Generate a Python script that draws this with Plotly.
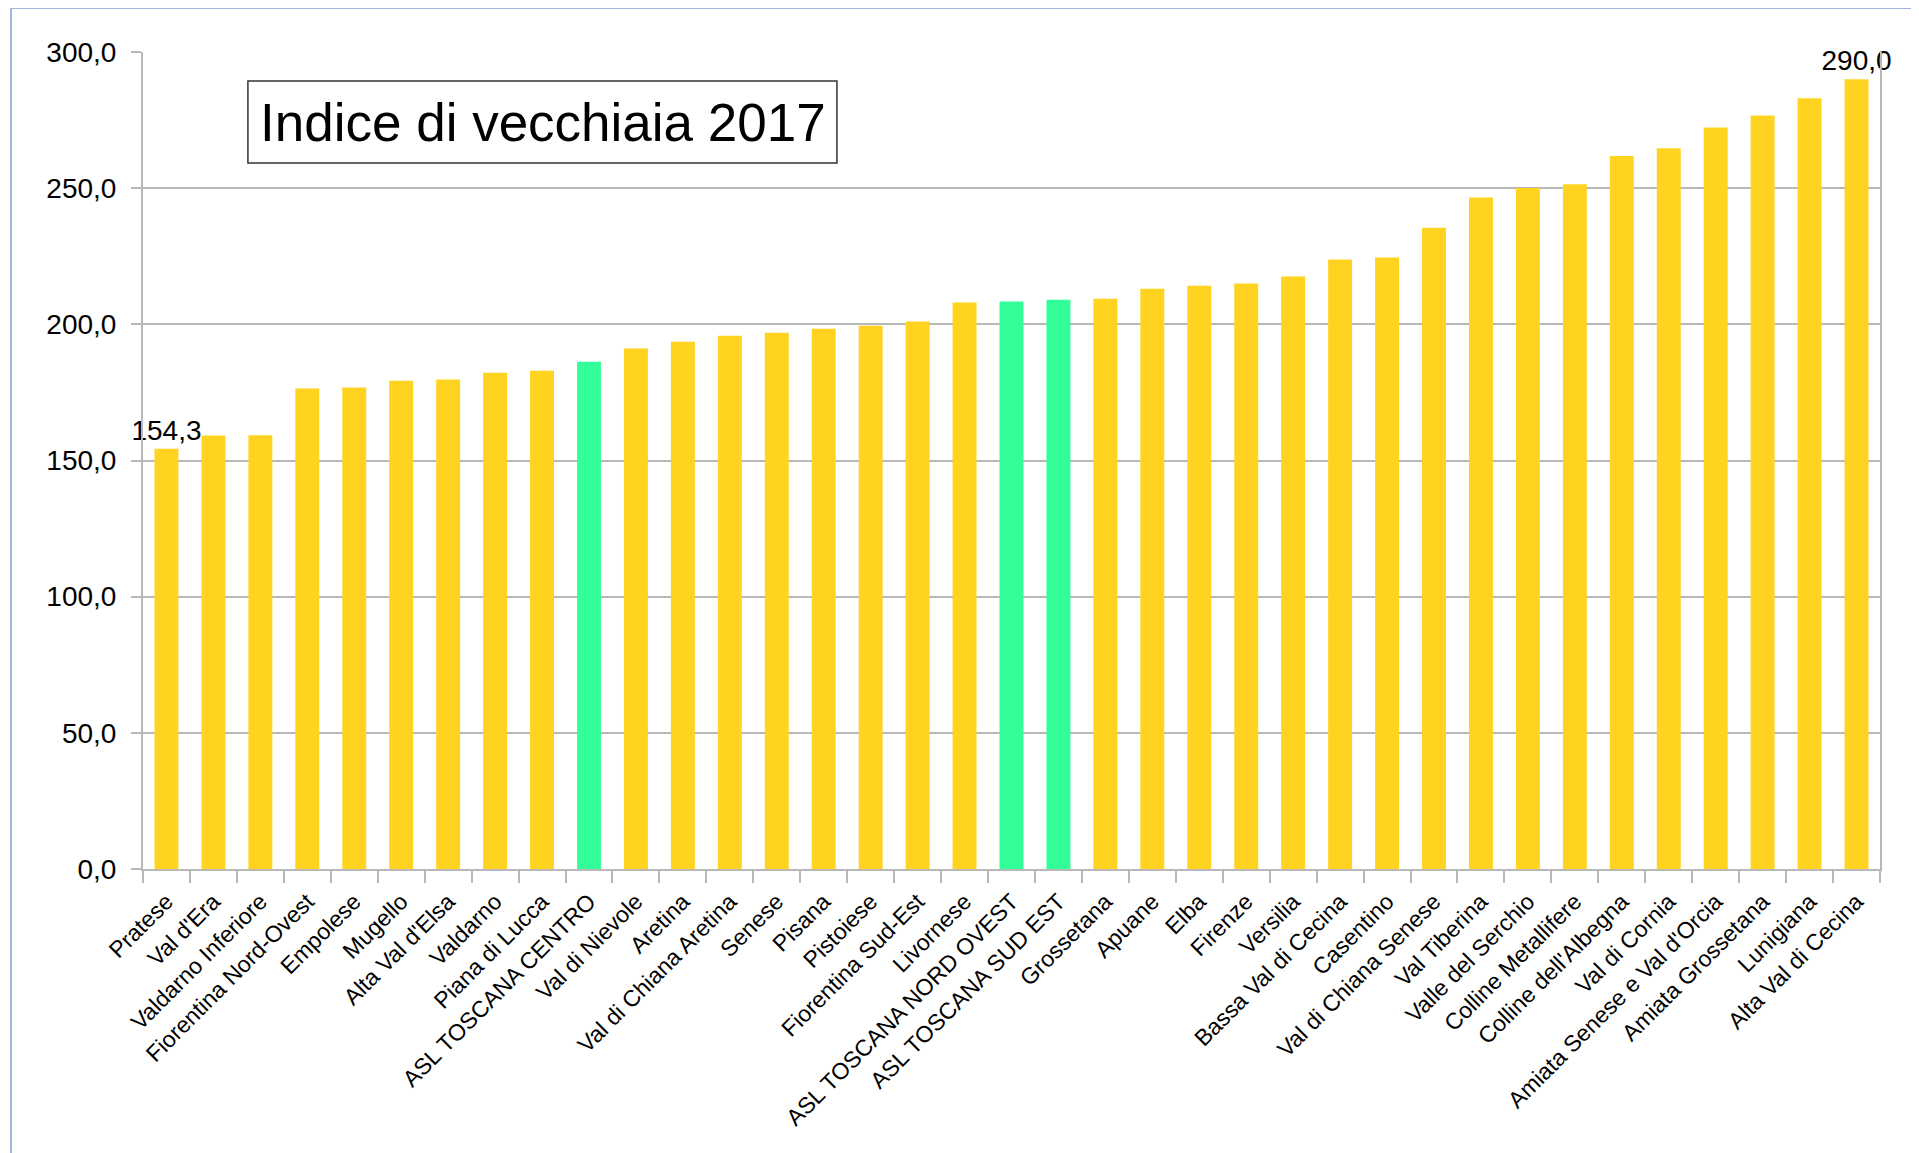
import plotly.graph_objects as go

# Indice di vecchiaia 2017 - zone / ASL della Toscana
zone = [
    "Pratese", "Val d'Era", "Valdarno Inferiore", "Fiorentina Nord-Ovest",
    "Empolese", "Mugello", "Alta Val d'Elsa", "Valdarno", "Piana di Lucca",
    "ASL TOSCANA CENTRO", "Val di Nievole", "Aretina", "Val di Chiana Aretina",
    "Senese", "Pisana", "Pistoiese", "Fiorentina Sud-Est", "Livornese",
    "ASL TOSCANA NORD OVEST", "ASL TOSCANA SUD EST", "Grossetana", "Apuane",
    "Elba", "Firenze", "Versilia", "Bassa Val di Cecina", "Casentino",
    "Val di Chiana Senese", "Val Tiberina", "Valle del Serchio",
    "Colline Metallifere", "Colline dell'Albegna", "Val di Cornia",
    "Amiata Senese e Val d'Orcia", "Amiata Grossetana", "Lunigiana",
    "Alta Val di Cecina",
]
indice = [
    154.3, 159.2, 159.3, 176.4, 176.8, 179.3, 179.7, 182.2, 183.0,
    186.3, 191.1, 193.6, 195.8, 196.9, 198.4, 199.5, 201.0, 208.0,
    208.4, 209.0, 209.4, 213.1, 214.2, 215.0, 217.6, 223.8, 224.5,
    235.5, 246.6, 250.1, 251.4, 261.8, 264.7, 272.3, 276.7, 283.0,
    290.0,
]
y_ticks = [0, 50, 100, 150, 200, 250, 300]

GIALLO = "#ffd320"
VERDE = "#33ff99"
GRIGIO = "#b8b8b8"

colori = [VERDE if z.startswith("ASL") else GIALLO for z in zone]

# only min and max get a value label
def fmt(v):
    return f"{v:.1f}".replace(".", ",")

etichette = ["" for _ in indice]
etichette[0] = fmt(indice[0])
etichette[-1] = fmt(indice[-1])

fig = go.Figure()
fig.add_trace(go.Bar(
    x=zone,
    y=indice,
    marker=dict(color=colori, line=dict(width=0)),
    text=etichette,
    textposition="outside",
    textfont=dict(family="Liberation Sans", size=28, color="black"),
    constraintext="none",
    cliponaxis=False,
    showlegend=False,
))

# page body has an 8px margin, so the figure is offset by 8px
fig.update_layout(
    width=1919,
    height=1153,
    margin=dict(l=135, r=47, t=44, b=292),
    paper_bgcolor="white",
    plot_bgcolor="white",
    separators=",.",
    bargap=0.49,
    font=dict(family="Liberation Sans", color="black"),
    xaxis=dict(
        type="category",
        tickangle=-45,
        tickfont=dict(size=23),
        ticklabelstandoff=8,
        showline=True, linecolor=GRIGIO, linewidth=2,
        ticks="outside", tickson="boundaries", ticklen=12,
        tickcolor=GRIGIO, tickwidth=2,
        showgrid=False,
    ),
    yaxis=dict(
        range=[0, 300],
        tickvals=y_ticks,
        tickformat=".1f",
        tickfont=dict(size=28),
        ticklabelstandoff=9,
        showline=True, mirror=True, linecolor=GRIGIO, linewidth=2,
        ticks="outside", ticklen=10, tickcolor=GRIGIO, tickwidth=2,
        showgrid=True, gridcolor=GRIGIO, gridwidth=2,
        zeroline=False,
    ),
    shapes=[
        # title frame
        dict(type="rect", xref="paper", yref="paper",
             x0=0.0604, x1=0.3995, y0=0.8641, y1=0.9645,
             line=dict(color="#333333", width=1.5), fillcolor="white", layer="above"),
        # outer chart frame
        dict(type="rect", xref="paper", yref="paper",
             x0=-0.076, x1=1.0202, y0=-0.36, y1=1.0539,
             line=dict(color="#9db8dc", width=2), layer="below"),
    ],
    annotations=[
        dict(text="Indice di vecchiaia 2017", xref="paper", yref="paper",
             x=0.2300, y=0.9143, xanchor="center", yanchor="middle",
             showarrow=False, font=dict(size=53, color="black")),
    ],
)

fig.write_html("out.html")
